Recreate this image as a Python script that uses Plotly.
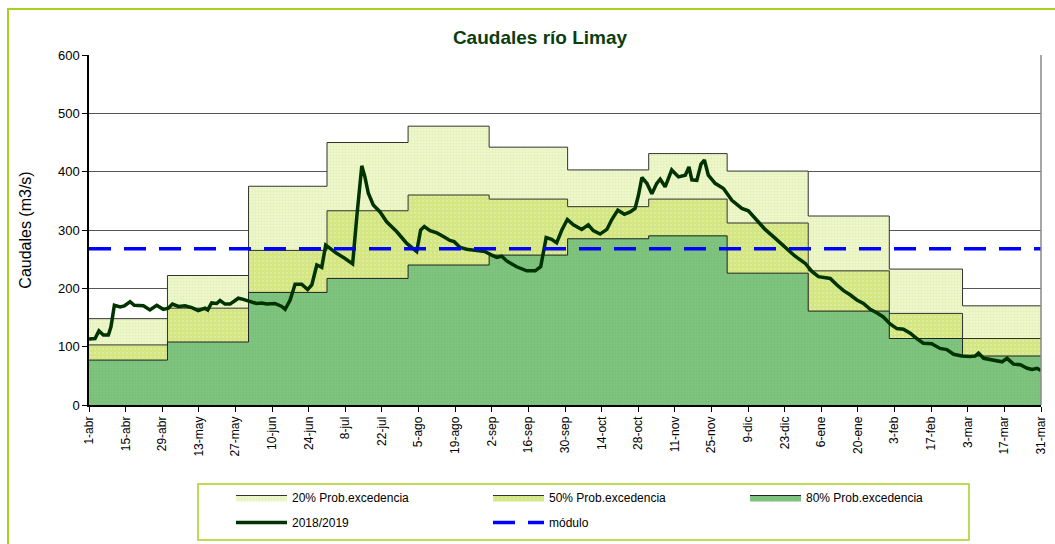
import plotly.graph_objects as go

# ---- data ----
month_start_day = [0, 30, 61, 91, 122, 153, 183, 214, 244, 275, 306, 334, 364]
prob20 = [148, 222, 375, 450, 478, 442, 403, 431, 401, 324, 233, 170]
prob50 = [103, 166, 265, 333, 360, 353, 340, 353, 312, 230, 157, 114]
prob80 = [77, 108, 193, 217, 240, 257, 285, 290, 226, 161, 114, 84]
modulo = 268

obs_day = [0, 2.3, 3.8, 5.5, 7.4, 8.4, 9.7, 11.9, 13.5, 15.7, 17.3, 20.8, 23.3, 25.9, 28.4,
           30.3, 31.9, 34.2, 36.7, 39.3, 41.8, 44.4, 45.4, 46.9, 48.8, 50.1, 52, 53.9, 55.2,
           57.1, 59, 61.6, 64.1, 66, 68, 71.1, 73.7, 75, 76.9, 78.8, 81.3, 83.6, 85.2, 87.1,
           89, 90.5, 92.2, 94.7, 97.9, 100.8, 102.4, 104.3, 105.5, 106.8, 108.7, 111.3,
           113.8, 117.7, 121.5, 125.3, 126.8, 128.2, 130.4, 133, 135.5, 138, 139.6, 141.9,
           144.4, 148.3, 151.4, 154, 155.9, 157.8, 159.7, 163.5, 167.4, 170.6, 172.7, 174.8,
           176.9, 178.8, 180.8, 182.9, 185.2, 188.4, 190.9, 192.8, 195.4, 198, 199.9, 202.2,
           204.7, 206.9, 208.8, 210.1, 211.4, 213.3, 215.2, 217.1, 218.4, 220.3, 222.8,
           225.4, 228, 229.4, 230.5, 232.4, 234, 235.3, 236.8, 239.4, 242.6, 245.8, 249.6,
           252.1, 255.3, 258.5, 262.3, 266.2, 270, 273.8, 276.4, 278.9, 281.5, 283.4, 285.9,
           288.5, 291, 293.6, 296.1, 298.7, 301.2, 303.7, 306.3, 308.9, 311.4, 314, 316.5,
           319, 322.2, 325.4, 328, 330.6, 333.7, 336.9, 338.8, 340.1, 342.1, 344.6, 347.2,
           349.1, 351, 353.5, 356.1, 358.7, 360.6, 362.5, 364]
obs_val = [113, 114, 127, 120, 120, 134, 171, 168, 170, 177, 171, 170, 163, 171, 164,
           166, 173, 169, 170, 167, 162, 166, 163, 175, 174, 179, 173, 173, 177,
           183, 181, 177, 174, 175, 173, 174, 169, 164, 180, 207, 207, 198, 206, 240,
           236, 274, 268, 260, 251, 242, 323, 410, 391, 363, 343, 331,
           314, 297, 277, 263, 300, 306, 299, 295, 289, 282, 280, 270,
           267, 265, 263, 257, 253, 255, 247, 237, 230, 230, 237, 287,
           284, 278, 300, 318, 309, 301, 309, 299, 293, 301, 318, 334,
           327, 331, 337, 360, 390, 380, 362, 380, 387, 374, 403,
           391, 394, 408, 386, 385, 413, 420, 394, 380, 371, 351, 337,
           333, 317, 301, 286, 270, 255, 243, 229, 220, 219, 217, 206,
           196, 189, 180, 174, 164, 158, 151, 139, 131, 130, 123, 114,
           106, 105, 97, 95, 87, 84, 83, 84, 89, 80, 78, 77,
           74, 80, 70, 69, 63, 61, 63, 59]

tick_days = list(range(0, 365, 14))
tick_labels = ["1-abr", "15-abr", "29-abr", "13-may", "27-may", "10-jun", "24-jun", "8-jul",
               "22-jul", "5-ago", "19-ago", "2-sep", "16-sep", "30-sep", "14-oct", "28-oct",
               "11-nov", "25-nov", "9-dic", "23-dic", "6-ene", "20-ene", "3-feb", "17-feb",
               "3-mar", "17-mar", "31-mar"]

FONT = "Liberation Sans, Arial, sans-serif"
GREEN_BORDER = "#a8d020"

# plot-area pixel geometry (for placing things in paper coordinates)
L, T, W, H = 89, 55, 952, 350
def px_x(p):
    return (p - L) / W
def px_y(p):
    return (T + H - p) / H

def step(vals):
    return vals + [vals[-1]]

fig = go.Figure()
fig.add_trace(go.Scatter(
    x=month_start_day, y=step(prob20), name="20% Prob.excedencia", mode="lines", legend="legend",
    line=dict(shape="hv", color="#333333", width=1), fill="tozeroy", fillcolor="#eef6cc",
    fillpattern=dict(shape=".", fgcolor="#d8e8a0", bgcolor="#eef6cc", size=3, solidity=0.35)))
fig.add_trace(go.Scatter(
    x=month_start_day, y=step(prob50), name="50% Prob.excedencia", mode="lines", legend="legend",
    line=dict(shape="hv", color="#333333", width=1), fill="tozeroy", fillcolor="#d3e681",
    fillpattern=dict(shape=".", fgcolor="#eef5d2", bgcolor="#d3e681", size=4, solidity=0.2)))
fig.add_trace(go.Scatter(
    x=month_start_day, y=step(prob80), name="80% Prob.excedencia", mode="lines", legend="legend",
    line=dict(shape="hv", color="#222222", width=1), fill="tozeroy", fillcolor="#7ec47f",
    fillpattern=dict(shape=".", fgcolor="#6fb672", bgcolor="#7ec47f", size=3, solidity=0.3)))
fig.add_trace(go.Scatter(
    x=obs_day, y=obs_val, name="2018/2019", mode="lines", legend="legend2",
    line=dict(color="#003300", width=3.5)))
fig.add_trace(go.Scatter(
    x=[month_start_day[0], month_start_day[-1]], y=[modulo, modulo], name="módulo", mode="lines",
    legend="legend2", line=dict(color="#0000ff", width=3.5, dash="22px,13px")))

legend_common = dict(orientation="h", xanchor="left", yanchor="top",
                     entrywidth=191, entrywidthmode="pixels", itemwidth=51,
                     borderwidth=0, bgcolor="rgba(0,0,0,0)",
                     font=dict(family=FONT, size=12, color="black"),
                     traceorder="normal")

fig.update_layout(
    width=1055, height=544,
    margin=dict(l=L, r=1055 - L - W, t=T, b=544 - T - H, autoexpand=False),
    paper_bgcolor="white", plot_bgcolor="white",
    font=dict(family=FONT, size=12, color="black"),
    title=dict(text="<b>Caudales río Limay</b>", x=540 / 1055, xanchor="center",
               y=1 - 37 / 544, yanchor="middle",
               font=dict(family=FONT, size=19, color="#0d3d0d")),
    showlegend=True,
    legend=dict(x=px_x(231), y=px_y(483), **legend_common),
    legend2=dict(x=px_x(231), y=px_y(508), **legend_common),
    xaxis=dict(range=[0, 364], tickmode="array", tickvals=tick_days, ticktext=tick_labels,
               tickangle=-90, showgrid=False, showline=True, linecolor="black", linewidth=1.5,
               ticks="outside", ticklen=5, tickcolor="black", zeroline=False, automargin=False,
               tickfont=dict(size=12)),
    yaxis=dict(range=[0, 600], dtick=100, showgrid=True, gridcolor="#555555", gridwidth=1,
               showline=True, linecolor="black", linewidth=1.5, ticks="outside", ticklen=5,
               tickcolor="black", zeroline=False, automargin=False, tickfont=dict(size=13),
               title=dict(text="Caudales (m3/s)", font=dict(size=16), standoff=22)),
    shapes=[
        dict(type="line", xref="paper", yref="paper", x0=1, x1=1, y0=0, y1=1,
             line=dict(color="#888888", width=1.5)),
        dict(type="rect", xref="paper", yref="paper",
             x0=px_x(8), x1=px_x(1065), y0=px_y(560), y1=px_y(9),
             line=dict(color=GREEN_BORDER, width=2), fillcolor="rgba(0,0,0,0)", layer="below"),
        dict(type="rect", xref="paper", yref="paper",
             x0=px_x(198), x1=px_x(969), y0=px_y(540), y1=px_y(484),
             line=dict(color=GREEN_BORDER, width=1.5), fillcolor="rgba(0,0,0,0)", layer="below"),
    ],
)

fig.write_html("out.html", config={"displayModeBar": False},
               post_script="document.body.style.margin='0';")
